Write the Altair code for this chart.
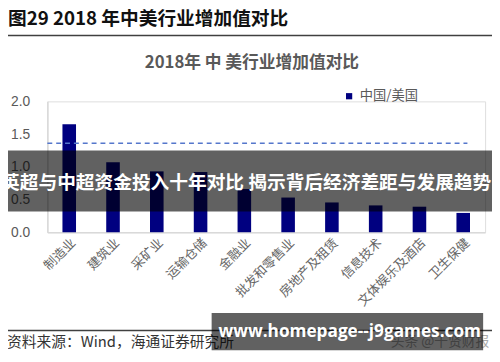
import altair as alt
import pandas as pd

categories = ["制造业", "建筑业", "采矿业", "运输仓储", "金融业", "批发和零售业",
              "房地产及租赁", "信息技术", "文体娱乐及酒店", "卫生保健"]
ratios = [1.65, 1.07, 0.93, 0.92, 0.66, 0.53, 0.455, 0.41, 0.39, 0.295]
series_name = "中国/美国"
average_value = [1.36]
y_ticks = [0, 0.5, 1.0, 1.5, 2.0]

df = pd.DataFrame({"行业": categories, "比值": ratios, "系列": [series_name] * len(categories)})

W, H = 445, 133

y_axis = alt.Axis(values=y_ticks, format=".1f", grid=False, ticks=False,
                  labelOverlap=False, labelBound=False, title=None,
                  labelFont="Liberation Sans", labelFontSize=14, labelColor="#595959",
                  domainColor="#d9d9d9", domainWidth=1.5, labelPadding=18)
y_scale = alt.Scale(domain=[0, 2], nice=False)

bars = alt.Chart(df).mark_bar(color="#000080").encode(
    x=alt.X("行业:N", sort=categories, title=None,
            scale=alt.Scale(paddingInner=0.69, paddingOuter=0.345),
            axis=alt.Axis(labelAngle=315, labelFont="Noto Sans CJK SC", labelFontSize=13,
                          labelColor="#666666", ticks=False, domainColor="#d9d9d9",
                          domainWidth=1.5, labelPadding=4)),
    y=alt.Y("比值:Q", title=None, scale=y_scale, axis=y_axis),
    color=alt.Color("系列:N", scale=alt.Scale(range=["#000080"]),
                    legend=alt.Legend(title=None, orient="none", legendX=300, legendY=-12,
                                      symbolType="square", symbolSize=40, padding=0,
                                      labelFont="Noto Sans CJK SC", labelFontSize=13.5,
                                      labelColor="#595959", labelOffset=4)),
)

avg_rule = alt.Chart(pd.DataFrame({"平均": average_value})).mark_rule(
    strokeDash=[5, 4], color="#5577cc", strokeWidth=1.6
).encode(y=alt.Y("平均:Q", title=None, scale=y_scale, axis=y_axis),
         x=alt.value(0), x2=alt.value(427))

one = pd.DataFrame({"k": [0]})

def txt(s, x, y, **kw):
    return alt.Chart(one).mark_text(**kw).encode(x=alt.value(x), y=alt.value(y), text=alt.value(s))

def hline(x1, x2, y, color, w):
    return alt.Chart(one).mark_rule(color=color, strokeWidth=w).encode(
        x=alt.value(x1), x2=alt.value(x2), y=alt.value(y))

def box(x1, x2, y1, y2, color, op):
    return alt.Chart(one).mark_rect(color=color, opacity=op).encode(
        x=alt.value(x1), x2=alt.value(x2), y=alt.value(y1), y2=alt.value(y2))

title = txt("图29 2018 年中美行业增加值对比", -40, -84, align="left", baseline="middle",
            font="Noto Sans CJK SC", fontSize=19, fontWeight="bold", color="#111111")
top_line = hline(-48, 452, -67, "#404040", 1.5)
subtitle = txt("2018年 中 美行业增加值对比", 208, -39, align="center", baseline="middle",
               font="Noto Sans CJK SC", fontSize=17, fontWeight="bold", color="#595959")
bottom_line = hline(-48, 452, 233, "#404040", 1.5)
source = txt("资料来源：Wind，海通证券研究所", -41, 245, align="left", baseline="middle",
             font="Noto Sans CJK SC", fontSize=15, color="#333333")
faint = txt("头条 @千贤财报", 349, 245, align="left", baseline="middle",
            font="Noto Sans CJK SC", fontSize=14, color="#aaaaaa")

banner1 = box(-48, 452, 50, 112, "#000000", 0.62)
banner1_text = txt("英超与中超资金投入十年对比 揭示背后经济差距与发展趋势", -47, 83,
                   align="left", baseline="middle", font="Noto Sans CJK SC", fontSize=19,
                   fontWeight="bold", color="#ffffff")
banner2 = box(167, 443, 215, 253, "#000000", 0.62)
banner2_text = txt("www.homepage--j9games.com", 174, 235, align="left", baseline="middle",
                   font="Open Sans", fontSize=17.5, fontWeight="bold", color="#ffffff")

chart = alt.layer(
    bars, avg_rule, title, top_line, subtitle, bottom_line, source, faint,
    banner1, banner1_text, banner2, banner2_text
).properties(
    width=W, height=H,
    autosize=alt.AutoSizeParams(type="none"),
    padding={"left": 40, "top": 92, "right": 7, "bottom": 129},
).configure_view(stroke=None).configure_axis(labelOverlap=False).configure(background="#ffffff")

chart.save("out.html", embed_options={"renderer": "svg", "actions": False})
